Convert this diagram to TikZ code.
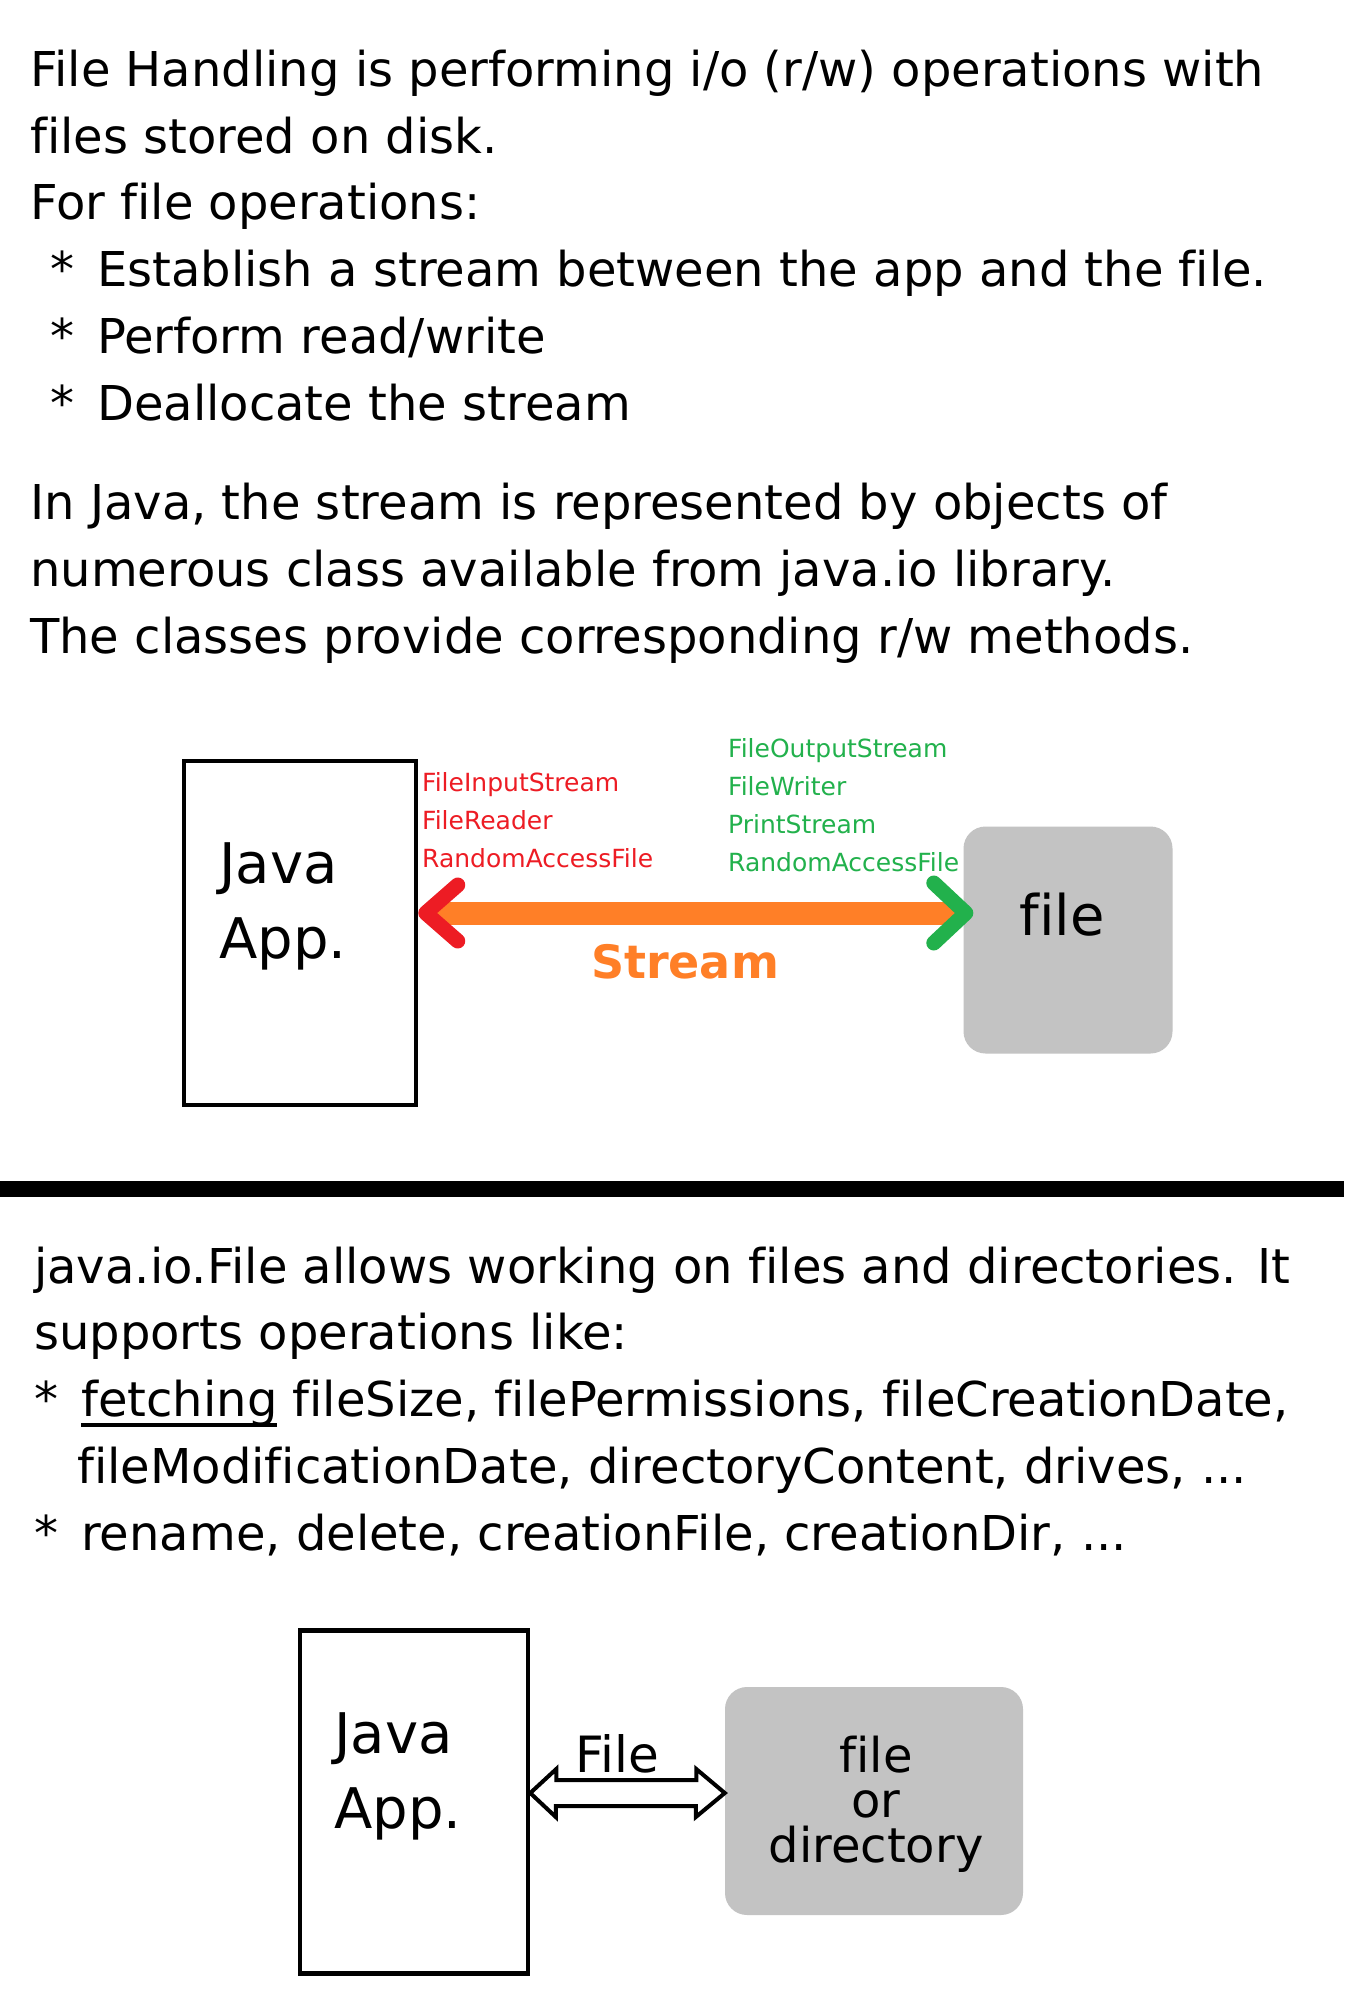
\documentclass[tikz,border=0pt]{standalone}
\usepackage{fontspec}
\setmainfont{DejaVu Sans}[Ligatures=NoCommon]
\usepackage{xcolor}
\usetikzlibrary{arrows.meta,positioning,calc}

\definecolor{pntred}{HTML}{ED1C24}
\definecolor{pntgreen}{HTML}{22B14C}
\definecolor{pntorange}{HTML}{FF7F27}
\definecolor{pntgray}{HTML}{C3C3C3}

\newcommand{\bul}{\makebox[47pt][l]{*}}
\newcommand{\ulword}[1]{\setbox0\hbox{#1}\rlap{\rule[-10pt]{\wd0}{4pt}}\box0\relax}

\begin{document}
\begin{tikzpicture}[x=1pt, y=-1pt,
      para/.style={anchor=base west, inner sep=0pt, align=left, font=\fontsize{48}{66.7}\selectfont},
      appbox/.style={draw, line width=4.5pt, minimum width=232pt, minimum height=344pt, inner sep=0pt},
      apptext/.style={anchor=base west, inner sep=0pt, align=left, font=\fontsize{56}{75}\selectfont},
      filebox/.style={fill=pntgray, rounded corners=22pt, inner sep=0pt},
      boxtext/.style={anchor=base, inner sep=0pt, align=center, font=\fontsize{48}{45}\selectfont},
      cls/.style={anchor=base west, inner sep=0pt, align=left, font=\fontsize{25}{37.7}\selectfont},
      stream/.style={line width=23pt, draw=pntorange,
        {Straight Barb[length=32pt, width=56pt, line width=15pt, round, color=pntred]}-{Straight Barb[length=32pt, width=60pt, line width=15pt, round, color=pntgreen]}},
      hollow/.style={draw, line width=4pt, fill=white, line join=miter},
    ]
    \fill[white] (0,0) rectangle (1344,1996);
    \useasboundingbox (0,0) rectangle (1344,1996);

    % text on top (multi-line nodes sit on their last baseline)
    \node[para] (intro) at (30,420) {File Handling is performing i/o (r/w) operations with\\
      files stored on disk.\\
      For file operations:\\
      \hspace*{20pt}\bul Establish a stream between the app and the file.\\
      \hspace*{20pt}\bul Perform read/write\\
      \hspace*{20pt}\bul Deallocate the stream};
    \node[para] (injava) at (30,653) {In Java, the stream is represented by objects of\\
      numerous class available from java.io library.\\
      The classes provide corresponding r/w methods.};

    % streams
    \node[appbox] (app1) at (300,933) {};
    \node[apptext] (app1txt) at (219,958) {Java\\App.};
    \node[filebox, minimum width=209pt, minimum height=227pt] (file1) at (1068,940) {};
    \node[boxtext, font=\fontsize{56}{60}\selectfont] (file1txt) at (1062,935) {file};
    \coordinate (lvl) at (0,913);
    \draw[stream] (app1.east |- lvl) -- ([xshift=10pt]file1.west |- lvl);
    \node[cls, text=pntred] (inlist) at (422,867) {FileInputStream\\FileReader\\RandomAccessFile};
    \node[cls, text=pntgreen] (outlist) at (728,871) {FileOutputStream\\FileWriter\\PrintStream\\RandomAccessFile};
    \node[anchor=base, inner sep=0pt, text=pntorange, font=\fontsize{46}{50}\selectfont\bfseries] (streamlbl) at (685,978) {Stream};

    \draw[line width=16pt] (0,1189) -- (1344,1189);

    % java.io.File
    \node[para] (iofile) at (34,1550) {java.io.File allows working on files and directories. It\\
      supports operations like:\\
      \bul\ulword{fetching} fileSize, filePermissions, fileCreationDate,\\
      \hspace*{43pt}fileModificationDate, directoryContent, drives, ...\\
      \bul rename, delete, creationFile, creationDir, ...};

    \node[appbox, minimum width=228pt, minimum height=343pt] (app2) at (414,1802) {};
    \node[apptext] (app2txt) at (334,1828) {Java\\App.};
    \node[filebox, minimum width=298pt, minimum height=228pt] (file2) at (874,1801) {};
    \node[boxtext] (file2txt) at (876,1862) {file\\or\\directory};
    \coordinate (fconn) at (0,1793);
    \draw[hollow] (app2.east |- fconn) -- ++(26,-24) -- ++(0,11) -- ++(140,0) -- ++(0,-11)
      -- (file2.west |- fconn) -- ++(-29,24) -- ++(0,-11) -- ++(-140,0) -- ++(0,11) -- cycle;
    \node[anchor=base, inner sep=0pt, font=\fontsize{50}{60}\selectfont] (fconnlbl) at (617,1772) {File};
  \end{tikzpicture}
\end{document}
